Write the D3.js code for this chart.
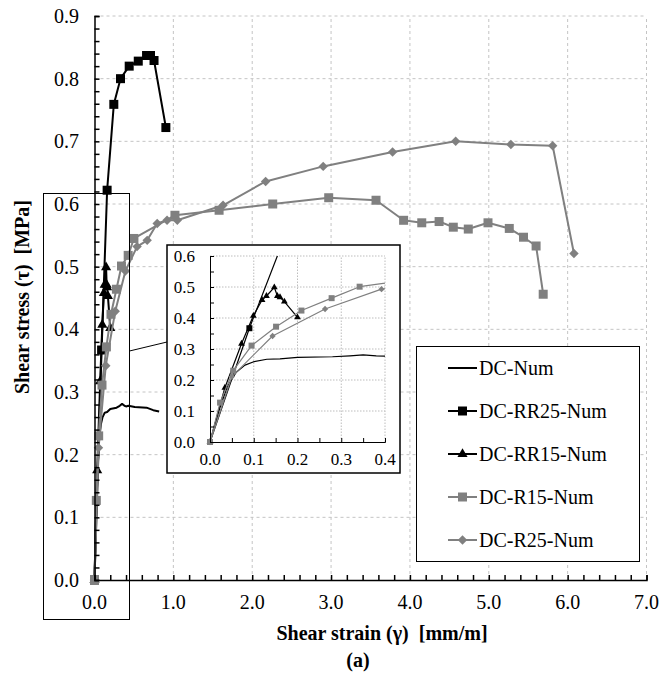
<!DOCTYPE html>
<html>
<head>
<meta charset="utf-8">
<script src="https://cdn.jsdelivr.net/npm/d3@7"></script>
</head>
<body style="margin:0">
<svg id="chart" width="663" height="680"></svg>
<script>
// data: [strain mm/m, stress MPa]
const dcNum = [[0,0],[0.02,0.1],[0.04,0.18],[0.06,0.225],[0.08,0.248],[0.1,0.259],[0.13,0.267],[0.16,0.268],[0.2,0.273],[0.28,0.275],[0.32,0.278],[0.35,0.281],[0.38,0.278],[0.4,0.277],[0.43,0.278],[0.51,0.276],[0.66,0.275],[0.745,0.271],[0.82,0.269]];
const dcRR25 = [[0,0],[0.09,0.367],[0.16,0.622],[0.245,0.759],[0.33,0.80],[0.44,0.82],[0.555,0.828],[0.66,0.837],[0.71,0.837],[0.755,0.829],[0.905,0.722]];
const dcRR15 = [[0,0],[0.034,0.175],[0.072,0.317],[0.099,0.407],[0.119,0.458],[0.129,0.471],[0.147,0.499],[0.154,0.471],[0.16,0.467],[0.17,0.453],[0.2,0.402]];
const dcR15 = [[0,0],[0.023,0.127],[0.053,0.23],[0.095,0.311],[0.151,0.372],[0.209,0.424],[0.278,0.464],[0.342,0.501],[0.427,0.518],[0.5,0.545],[1.02,0.582],[1.58,0.59],[2.26,0.60],[2.97,0.61],[3.57,0.606],[3.92,0.574],[4.15,0.57],[4.37,0.572],[4.55,0.563],[4.74,0.56],[4.99,0.57],[5.26,0.561],[5.44,0.547],[5.6,0.533],[5.69,0.456]];
const dcR25 = [[0,0],[0.05,0.211],[0.143,0.342],[0.263,0.429],[0.392,0.493],[0.54,0.532],[0.668,0.542],[0.795,0.569],[0.92,0.574],[1.05,0.574],[1.63,0.598],[2.17,0.636],[2.9,0.66],[3.78,0.683],[4.58,0.70],[5.28,0.695],[5.81,0.693],[6.08,0.521]];

const seriesNames = ["DC-Num", "DC-RR25-Num", "DC-RR15-Num", "DC-R15-Num", "DC-R25-Num"];
const xTicks = [0,1,2,3,4,5,6,7];
const yTicks = [0,0.1,0.2,0.3,0.4,0.5,0.6,0.7,0.8,0.9];
const insetXTicks = [0,0.1,0.2,0.3,0.4];
const insetYTicks = [0,0.1,0.2,0.3,0.4,0.5,0.6];

const series = [
  { name: seriesNames[0], data: dcNum, color: "#000", marker: null },
  { name: seriesNames[1], data: dcRR25, color: "#000", marker: "square" },
  { name: seriesNames[2], data: dcRR15, color: "#000", marker: "triangle" },
  { name: seriesNames[3], data: dcR15, color: "#808080", marker: "square" },
  { name: seriesNames[4], data: dcR25, color: "#808080", marker: "diamond" }
];

const svg = d3.select("#chart");

const x = d3.scaleLinear().domain([0, 7]).range([94.5, 646.5]);
const y = d3.scaleLinear().domain([0, 0.9]).range([580, 16]);

function markerPath(type, s) {
  if (type === "square") return d3.symbol(d3.symbolSquare, s * s)();
  if (type === "triangle") return d3.symbol(d3.symbolTriangle, s * s * 0.55)();
  if (type === "diamond") return d3.symbol(d3.symbolSquare, s * s * 0.55)();
  return null;
}

function drawSeries(g, xs, ys, sz, lw) {
  const line = d3.line().x(d => xs(d[0])).y(d => ys(d[1]));
  series.forEach(s => {
    g.append("path").datum(s.data)
      .attr("d", line).attr("fill", "none")
      .attr("stroke", s.color).attr("stroke-width", lw)
      .attr("stroke-linejoin", "round");
    if (s.marker) {
      g.selectAll(null).data(s.data).enter().append("path")
        .attr("d", markerPath(s.marker, sz))
        .attr("transform", d => `translate(${xs(d[0])},${ys(d[1])})` + (s.marker === "diamond" ? " rotate(45)" : ""))
        .attr("fill", s.color);
    }
  });
}

function txt(g, size) {
  return g.append("text").attr("font-size", size).attr("font-family", "Liberation Serif");
}

// main grid
const grid = svg.append("g").attr("stroke", "#c4c4c4").attr("stroke-dasharray", "3,3").attr("stroke-width", 1);
xTicks.slice(1).forEach(t => grid.append("line").attr("x1", x(t)).attr("x2", x(t)).attr("y1", y(0)).attr("y2", y(0.9)));
yTicks.slice(1).forEach(t => grid.append("line").attr("x1", x(0)).attr("x2", x(7)).attr("y1", y(t)).attr("y2", y(t)));

// main series
drawSeries(svg.append("g"), x, y, 9, 2);

// main axes (minor ticks inside, labels drawn separately)
svg.append("g").attr("transform", `translate(${x(0)},0)`)
  .call(d3.axisLeft(y).tickValues(d3.range(0, 0.901, 0.02)).tickSize(-5).tickFormat(""))
  .call(g => g.select(".domain").attr("stroke-width", 1.5))
  .call(g => g.selectAll(".tick line").attr("stroke-width", 1.5));
svg.append("g").attr("transform", `translate(0,${y(0)})`)
  .call(d3.axisBottom(x).tickValues(d3.range(0, 7.01, 0.2)).tickSize(-5).tickFormat(""))
  .call(g => g.select(".domain").attr("stroke-width", 1.5))
  .call(g => g.selectAll(".tick line").attr("stroke-width", 1.5));

yTicks.forEach(d => txt(svg, 20).attr("x", 79).attr("y", y(d) + 7)
  .attr("text-anchor", "end").text(d.toFixed(1)));
xTicks.forEach(d => txt(svg, 20).attr("x", x(d)).attr("y", 609)
  .attr("text-anchor", "middle").text(d.toFixed(1)));

txt(svg, 20).attr("transform", "translate(29,297) rotate(-90)")
  .attr("text-anchor", "middle").attr("font-weight", "bold")
  .text("Shear stress (τ)\u00a0 [MPa]");
txt(svg, 20).attr("x", 382).attr("y", 640)
  .attr("text-anchor", "middle").attr("font-weight", "bold")
  .text("Shear strain (γ)\u00a0 [mm/m]");
txt(svg, 20).attr("x", 358).attr("y", 667)
  .attr("text-anchor", "middle").attr("font-weight", "bold")
  .text("(a)");

// zoom rectangle and connector
svg.append("rect").attr("x", 43.5).attr("y", 193.5).attr("width", 86).attr("height", 426)
  .attr("fill", "none").attr("stroke", "#000").attr("stroke-width", 1);
svg.append("line").attr("x1", 129.5).attr("y1", 351).attr("x2", 167).attr("y2", 342)
  .attr("stroke", "#000").attr("stroke-width", 1);

// inset
const ix = d3.scaleLinear().domain([0, 0.4]).range([210, 385]);
const iy = d3.scaleLinear().domain([0, 0.6]).range([442, 256]);
const inset = svg.append("g");
inset.append("rect").attr("x", 167).attr("y", 245).attr("width", 233).attr("height", 228)
  .attr("fill", "#fff").attr("stroke", "#000").attr("stroke-width", 1.5);
const igrid = inset.append("g").attr("stroke", "#bdbdbd").attr("stroke-dasharray", "1.5,1.5").attr("stroke-width", 1);
insetXTicks.slice(1).forEach(t => igrid.append("line").attr("x1", ix(t)).attr("x2", ix(t)).attr("y1", iy(0)).attr("y2", iy(0.6)));
insetYTicks.slice(1).forEach(t => igrid.append("line").attr("x1", ix(0)).attr("x2", ix(0.4)).attr("y1", iy(t)).attr("y2", iy(t)));

svg.append("clipPath").attr("id", "insetClip").append("rect")
  .attr("x", ix(0) - 5).attr("y", iy(0.6)).attr("width", ix(0.4) - ix(0) + 5).attr("height", iy(0) - iy(0.6) + 5);
drawSeries(inset.append("g").attr("clip-path", "url(#insetClip)"), ix, iy, 6, 1.2);

inset.append("g").attr("transform", `translate(${ix(0)},0)`)
  .call(d3.axisLeft(iy).tickValues(d3.range(0, 0.601, 0.05)).tickSize(-4).tickFormat(""));
inset.append("g").attr("transform", `translate(0,${iy(0)})`)
  .call(d3.axisBottom(ix).tickValues(d3.range(0, 0.401, 0.05)).tickSize(-4).tickFormat(""));
insetYTicks.forEach(d => txt(inset, 17).attr("x", 195).attr("y", iy(d) + 6)
  .attr("text-anchor", "end").text(d.toFixed(1)));
insetXTicks.forEach(d => txt(inset, 17).attr("x", ix(d)).attr("y", 465)
  .attr("text-anchor", "middle").text(d.toFixed(1)));

// legend
const legend = svg.append("g");
legend.append("rect").attr("x", 416.5).attr("y", 346.5).attr("width", 223).attr("height", 215)
  .attr("fill", "#fff").attr("stroke", "#000").attr("stroke-width", 1);
series.forEach((s, i) => {
  const ly = 368 + i * 43;
  const g = legend.append("g");
  g.append("line").attr("x1", 448).attr("x2", 477).attr("y1", ly).attr("y2", ly)
    .attr("stroke", s.color).attr("stroke-width", 2);
  if (s.marker) {
    g.append("path").attr("d", markerPath(s.marker, 9))
      .attr("transform", `translate(462.5,${ly})` + (s.marker === "diamond" ? " rotate(45)" : ""))
      .attr("fill", s.color);
  }
  txt(g, 20).attr("x", 479).attr("y", ly + 7).text(s.name);
});
</script>
</body>
</html>
